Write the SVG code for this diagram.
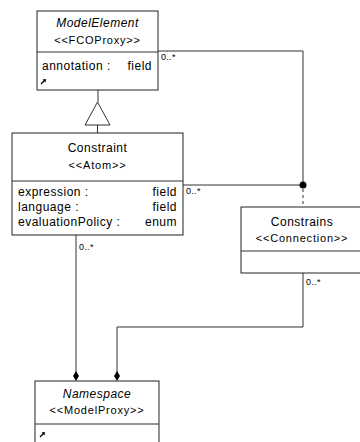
<svg xmlns="http://www.w3.org/2000/svg" width="360" height="442" viewBox="0 0 360 442">
<style>
.box{fill:#fff;stroke:#222;stroke-width:1}
.ln{fill:none;stroke:#333;stroke-width:1}
.t{font-family:"Liberation Sans",Arial,sans-serif;font-size:12px;fill:#000;letter-spacing:0.5px}
.c{text-anchor:middle}
.r{text-anchor:end}
.i{font-style:italic}
.s{font-size:11px;letter-spacing:0.8px}
.m{font-family:"Liberation Sans",Arial,sans-serif;font-size:9px;fill:#000;letter-spacing:0.3px}
.ic{fill:#000;stroke:#000;stroke-width:1.2}
</style>
<defs>
<g id="icon"><path class="ic" d="M0 5 L4 1" fill="none"/><path d="M1.5 0.5 L5 0 L4.5 3.5 Z" fill="#000"/></g>
</defs>
<g id="connectors">
<path class="ln" d="M98 90 V102"/>
<path class="ln" d="M97.5 102 L85 125 H110 Z" fill="#fff"/>
<path class="ln" d="M97.5 125 V133"/>
<path class="ln" d="M158 51 H303 V185"/>
<path class="ln" d="M183 185 H303"/>
<circle cx="303" cy="185" r="3.5" fill="#000"/>
<path class="ln" d="M303 189 V207" stroke-dasharray="3,3"/>
<path class="ln" d="M76 235 V375"/>
<path class="ln" d="M303 273 V327 H117 V375"/>
<path d="M76 371 L79 376 L76 381 L73 376 Z" fill="#000"/>
<path d="M117 371 L120 376 L117 381 L114 376 Z" fill="#000"/>
<text class="m" x="161" y="60">0..*</text>
<text class="m" x="186" y="194">0..*</text>
<text class="m" x="79" y="250">0..*</text>
<text class="m" x="306" y="285">0..*</text>
</g>
<g id="ModelElement">
<rect class="box" x="37" y="11" width="121" height="79"/>
<path class="ln" d="M37 52 H158"/>
<text class="t c i" x="97.5" y="27">ModelElement</text>
<text class="t c s" x="97.5" y="44">&lt;&lt;FCOProxy&gt;&gt;</text>
<text class="t" x="42" y="70">annotation :</text>
<text class="t r" x="152" y="70">field</text>
<use href="#icon" x="41" y="79"/>
</g>
<g id="Constraint">
<rect class="box" x="12" y="133" width="171" height="102"/>
<path class="ln" d="M12 181 H183"/>
<text class="t c" x="97.5" y="152">Constraint</text>
<text class="t c s" x="97.5" y="169">&lt;&lt;Atom&gt;&gt;</text>
<text class="t" x="18" y="196">expression :</text>
<text class="t r" x="177" y="196">field</text>
<text class="t" x="18" y="211">language :</text>
<text class="t r" x="177" y="211">field</text>
<text class="t" x="18" y="226">evaluationPolicy :</text>
<text class="t r" x="177" y="226">enum</text>
</g>
<g id="Constrains">
<rect class="box" x="241" y="207" width="122" height="66"/>
<path class="ln" d="M241 251 H363"/>
<text class="t c" x="302" y="226">Constrains</text>
<text class="t c s" x="302" y="242">&lt;&lt;Connection&gt;&gt;</text>
</g>
<g id="Namespace">
<rect class="box" x="35" y="381" width="124" height="70"/>
<path class="ln" d="M35 424 H159"/>
<text class="t c i" x="97" y="398">Namespace</text>
<text class="t c s" x="97" y="414">&lt;&lt;ModelProxy&gt;&gt;</text>
<use href="#icon" x="40" y="432"/>
</g>
</svg>
